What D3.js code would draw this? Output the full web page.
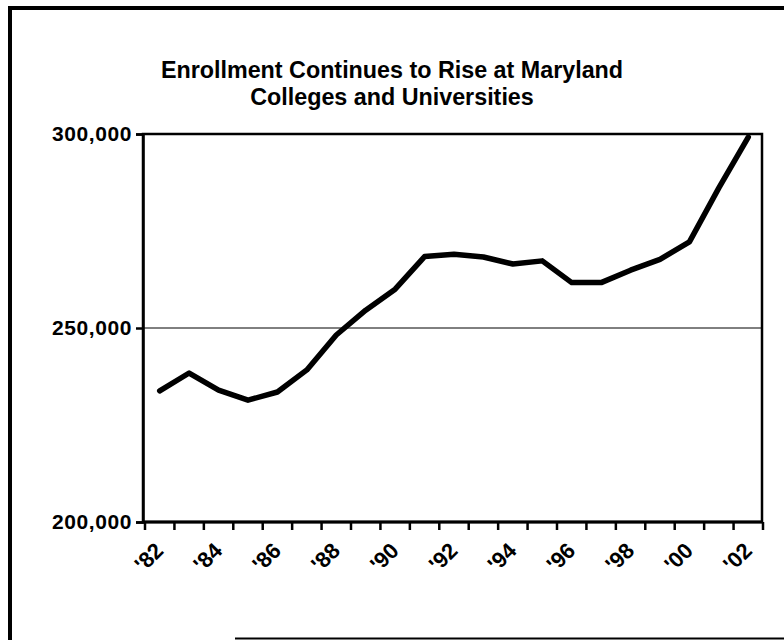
<!DOCTYPE html>
<html>
<head>
<meta charset="utf-8">
<script src="https://cdn.jsdelivr.net/npm/d3@7/dist/d3.min.js"></script>
<style>
  html, body { margin: 0; padding: 0; background: #fff; }
  svg { display: block; }
  text { font-family: "Liberation Sans", Arial, sans-serif; font-weight: bold; fill: #000; }
</style>
</head>
<body>
<svg id="chart" width="784" height="640"></svg>
<script>
const years = ["'82","'83","'84","'85","'86","'87","'88","'89","'90","'91","'92","'93","'94","'95","'96","'97","'98","'99","'00","'01","'02"];
const enrollment = [233800, 238400, 234000, 231400, 233500, 239200, 248200, 254600, 260000, 268400, 269000, 268300, 266500, 267300, 261700, 261700, 264900, 267700, 272200, 286100, 299200];
const yTicks = [200000, 250000, 300000];
const labelYears = ["'82","'84","'86","'88","'90","'92","'94","'96","'98","'00","'02"];
const titleLines = ["Enrollment Continues to Rise at Maryland", "Colleges and Universities"];

const svg = d3.select("#chart");
const W = 784, H = 640;

// outer frame (scanned page border)
svg.append("line").attr("x1", 8).attr("x2", W).attr("y1", 8).attr("y2", 8)
  .attr("stroke", "#000").attr("stroke-width", 4);
svg.append("line").attr("x1", 10).attr("x2", 10).attr("y1", 6).attr("y2", H)
  .attr("stroke", "#000").attr("stroke-width", 4);
svg.append("line").attr("x1", 235).attr("x2", W).attr("y1", 638.5).attr("y2", 638.5)
  .attr("stroke", "#000").attr("stroke-width", 2);

const pLeft = 143, pRight = 762, pTop = 134, pBottom = 522;

const x = d3.scaleBand().domain(years).range([pLeft + 2, pRight + 1]).padding(0);
const y = d3.scaleLinear().domain([200000, 300000]).range([pBottom, pTop]);

// title
svg.append("g").selectAll("text").data(titleLines).join("text")
  .attr("x", 392).attr("y", (d, i) => 78 + i * 27)
  .attr("text-anchor", "middle")
  .attr("font-size", 23.3)
  .text(d => d);

// gridline
svg.append("line")
  .attr("x1", pLeft).attr("x2", pRight)
  .attr("y1", y(250000)).attr("y2", y(250000))
  .attr("stroke", "#000").attr("stroke-width", 1);

// plot frame
svg.append("rect")
  .attr("x", pLeft).attr("y", pTop)
  .attr("width", pRight - pLeft).attr("height", pBottom - pTop)
  .attr("fill", "none").attr("stroke", "#000").attr("stroke-width", 2.5);

// y axis
const yAxis = svg.append("g").attr("transform", `translate(${pLeft},0)`)
  .call(d3.axisLeft(y).tickValues(yTicks).tickSize(7).tickPadding(4).tickFormat(d3.format(",")));
yAxis.select(".domain").attr("stroke-width", 2.5);
yAxis.selectAll(".tick line").attr("stroke-width", 2.5);
yAxis.selectAll(".tick text").attr("font-size", 21).attr("letter-spacing", "0.6px")
  .style("font-family", "'Liberation Sans', Arial, sans-serif").style("font-weight", "bold");

// x axis ticks (between categories)
const boundaries = years.map(d => x(d)).concat([x(years[years.length - 1]) + x.bandwidth()]);
svg.append("g").selectAll("line").data(boundaries).join("line")
  .attr("x1", d => d).attr("x2", d => d)
  .attr("y1", pBottom).attr("y2", pBottom + 8)
  .attr("stroke", "#000").attr("stroke-width", 2.5);
svg.append("line").attr("x1", pLeft).attr("x2", pRight).attr("y1", pBottom).attr("y2", pBottom)
  .attr("stroke", "#000").attr("stroke-width", 3);

// x labels
svg.append("g").selectAll("text").data(labelYears).join("text")
  .attr("text-anchor", "end")
  .attr("font-size", 22)
  .attr("transform", d => `translate(${x(d) + x.bandwidth() / 2 + 5},${pBottom + 30}) rotate(-45)`)
  .text(d => d);

// line
const line = d3.line()
  .x((d, i) => x(years[i]) + x.bandwidth() / 2)
  .y(d => y(d));
svg.append("path").datum(enrollment)
  .attr("d", line)
  .attr("fill", "none").attr("stroke", "#000")
  .attr("stroke-width", 5.5).attr("stroke-linejoin", "round").attr("stroke-linecap", "round");
</script>
</body>
</html>
